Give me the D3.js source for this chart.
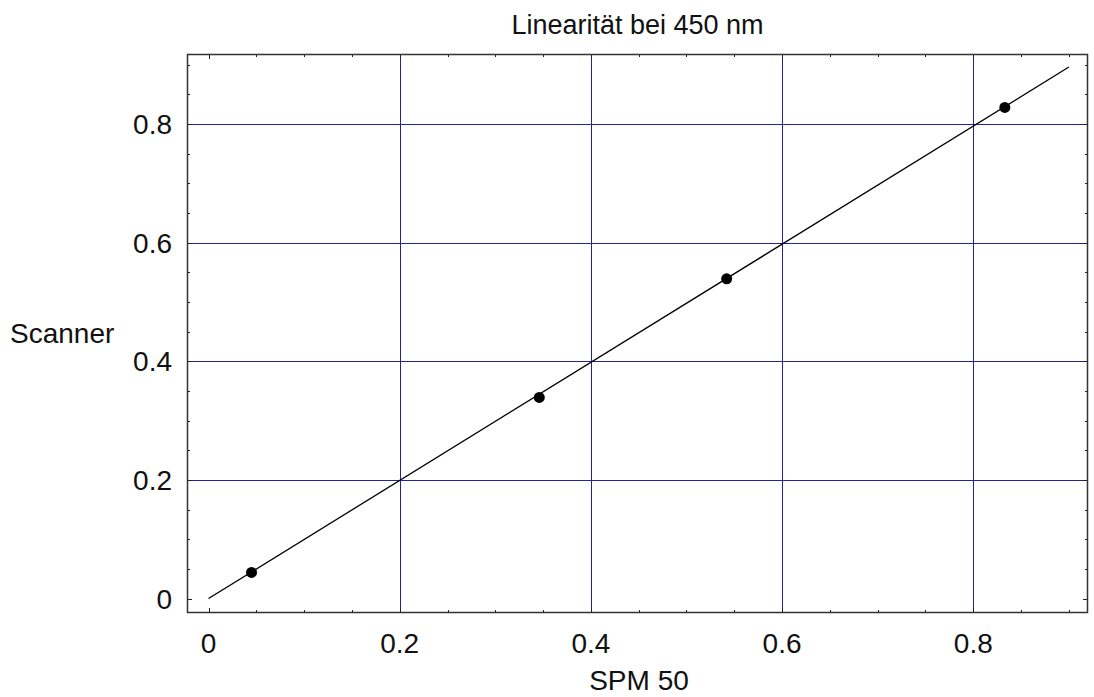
<!DOCTYPE html>
<html>
<head>
<meta charset="utf-8">
<script src="https://cdn.jsdelivr.net/npm/d3@7"></script>
<style>
  body { margin: 0; background: #fff; }
  svg { display: block; font-family: "Liberation Sans", Arial, sans-serif; }
</style>
</head>
<body>
<div id="plot"></div>
<script>
// measured points (SPM 50 vs Scanner)
const spmValues = [0.045, 0.346, 0.542, 0.833];
const scannerValues = [0.044, 0.339, 0.539, 0.828];
// fitted line end points
const fitX = [0, 0.9];
const fitY = [0, 0.896];
const majorTicks = [0, 0.2, 0.4, 0.6, 0.8];
const minorTicks = d3.range(0, 19).map(i => i * 0.05);

const width = 1094;
const height = 697;
const margin = {top: 54, right: 6, bottom: 84, left: 187};
const innerWidth = width - margin.left - margin.right;
const innerHeight = height - margin.top - margin.bottom;

const svg = d3.select('#plot').append('svg')
    .attr('width', width)
    .attr('height', height);

const x = d3.scaleLinear().domain([-0.0225, 0.92]).range([margin.left, margin.left + innerWidth]);
const y = d3.scaleLinear().domain([-0.0244, 0.918]).range([margin.top + innerHeight, margin.top]);

const px = v => Math.round(x(v)) + 0.5;
const py = v => Math.round(y(v)) + 0.5;

const gridColor = '#24249a';

// grid
svg.append('g').selectAll('line').data(majorTicks.filter(d => d > 0)).join('line')
    .attr('x1', d => px(d)).attr('x2', d => px(d))
    .attr('y1', margin.top).attr('y2', margin.top + innerHeight)
    .attr('stroke', gridColor).attr('stroke-width', 1);

svg.append('g').selectAll('line').data(majorTicks.filter(d => d > 0)).join('line')
    .attr('y1', d => py(d)).attr('y2', d => py(d))
    .attr('x1', margin.left).attr('x2', margin.left + innerWidth)
    .attr('stroke', gridColor).attr('stroke-width', 1);

// ticks on all four sides, pointing inward
const tickLen = d => (majorTicks.some(m => Math.abs(m - d) < 1e-9) ? 5 : 3);
const ticks = svg.append('g').attr('stroke', '#222').attr('stroke-width', 1);
const frameTop = margin.top, frameBottom = margin.top + innerHeight;
const frameLeft = margin.left, frameRight = margin.left + innerWidth;

ticks.selectAll('line.bt').data(minorTicks).join('line').attr('class', 'bt')
    .attr('x1', d => px(d)).attr('x2', d => px(d))
    .attr('y1', frameBottom).attr('y2', d => frameBottom - tickLen(d));
ticks.selectAll('line.tt').data(minorTicks).join('line').attr('class', 'tt')
    .attr('x1', d => px(d)).attr('x2', d => px(d))
    .attr('y1', frameTop).attr('y2', d => frameTop + tickLen(d));
ticks.selectAll('line.lt').data(minorTicks).join('line').attr('class', 'lt')
    .attr('y1', d => py(d)).attr('y2', d => py(d))
    .attr('x1', frameLeft).attr('x2', d => frameLeft + tickLen(d));
ticks.selectAll('line.rt').data(minorTicks).join('line').attr('class', 'rt')
    .attr('y1', d => py(d)).attr('y2', d => py(d))
    .attr('x1', frameRight).attr('x2', d => frameRight - tickLen(d));

// frame
svg.append('rect')
    .attr('x', frameLeft + 0.5).attr('y', frameTop + 0.5)
    .attr('width', innerWidth - 1).attr('height', innerHeight - 1)
    .attr('fill', 'none').attr('stroke', '#333').attr('stroke-width', 1.5);

// tick labels
const fmt = d => d === 0 ? '0' : String(d);
svg.append('g').selectAll('text').data(majorTicks).join('text')
    .attr('x', d => x(d)).attr('y', 653)
    .attr('text-anchor', 'middle').attr('font-size', 28).attr('fill', '#111')
    .text(fmt);
svg.append('g').selectAll('text').data(majorTicks).join('text')
    .attr('x', 172).attr('y', d => y(d) + 10)
    .attr('text-anchor', 'end').attr('font-size', 28).attr('fill', '#111')
    .text(fmt);

// fit line
svg.append('line')
    .attr('x1', x(fitX[0])).attr('y1', y(fitY[0]))
    .attr('x2', x(fitX[1])).attr('y2', y(fitY[1]))
    .attr('stroke', '#000').attr('stroke-width', 1.3);

// points
svg.append('g').selectAll('circle').data(spmValues).join('circle')
    .attr('cx', d => x(d)).attr('cy', (d, i) => y(scannerValues[i]))
    .attr('r', 5.5).attr('fill', '#000');

// titles
svg.append('text').attr('x', (frameLeft + frameRight) / 2).attr('y', 34)
    .attr('text-anchor', 'middle').attr('font-size', 27).attr('fill', '#111')
    .text('Linearität bei 450 nm');
svg.append('text').attr('x', 639).attr('y', 690)
    .attr('text-anchor', 'middle').attr('font-size', 28).attr('fill', '#111')
    .text('SPM 50');
svg.append('text').attr('x', 10).attr('y', 343)
    .attr('font-size', 28).attr('fill', '#111')
    .text('Scanner');
</script>
</body>
</html>
